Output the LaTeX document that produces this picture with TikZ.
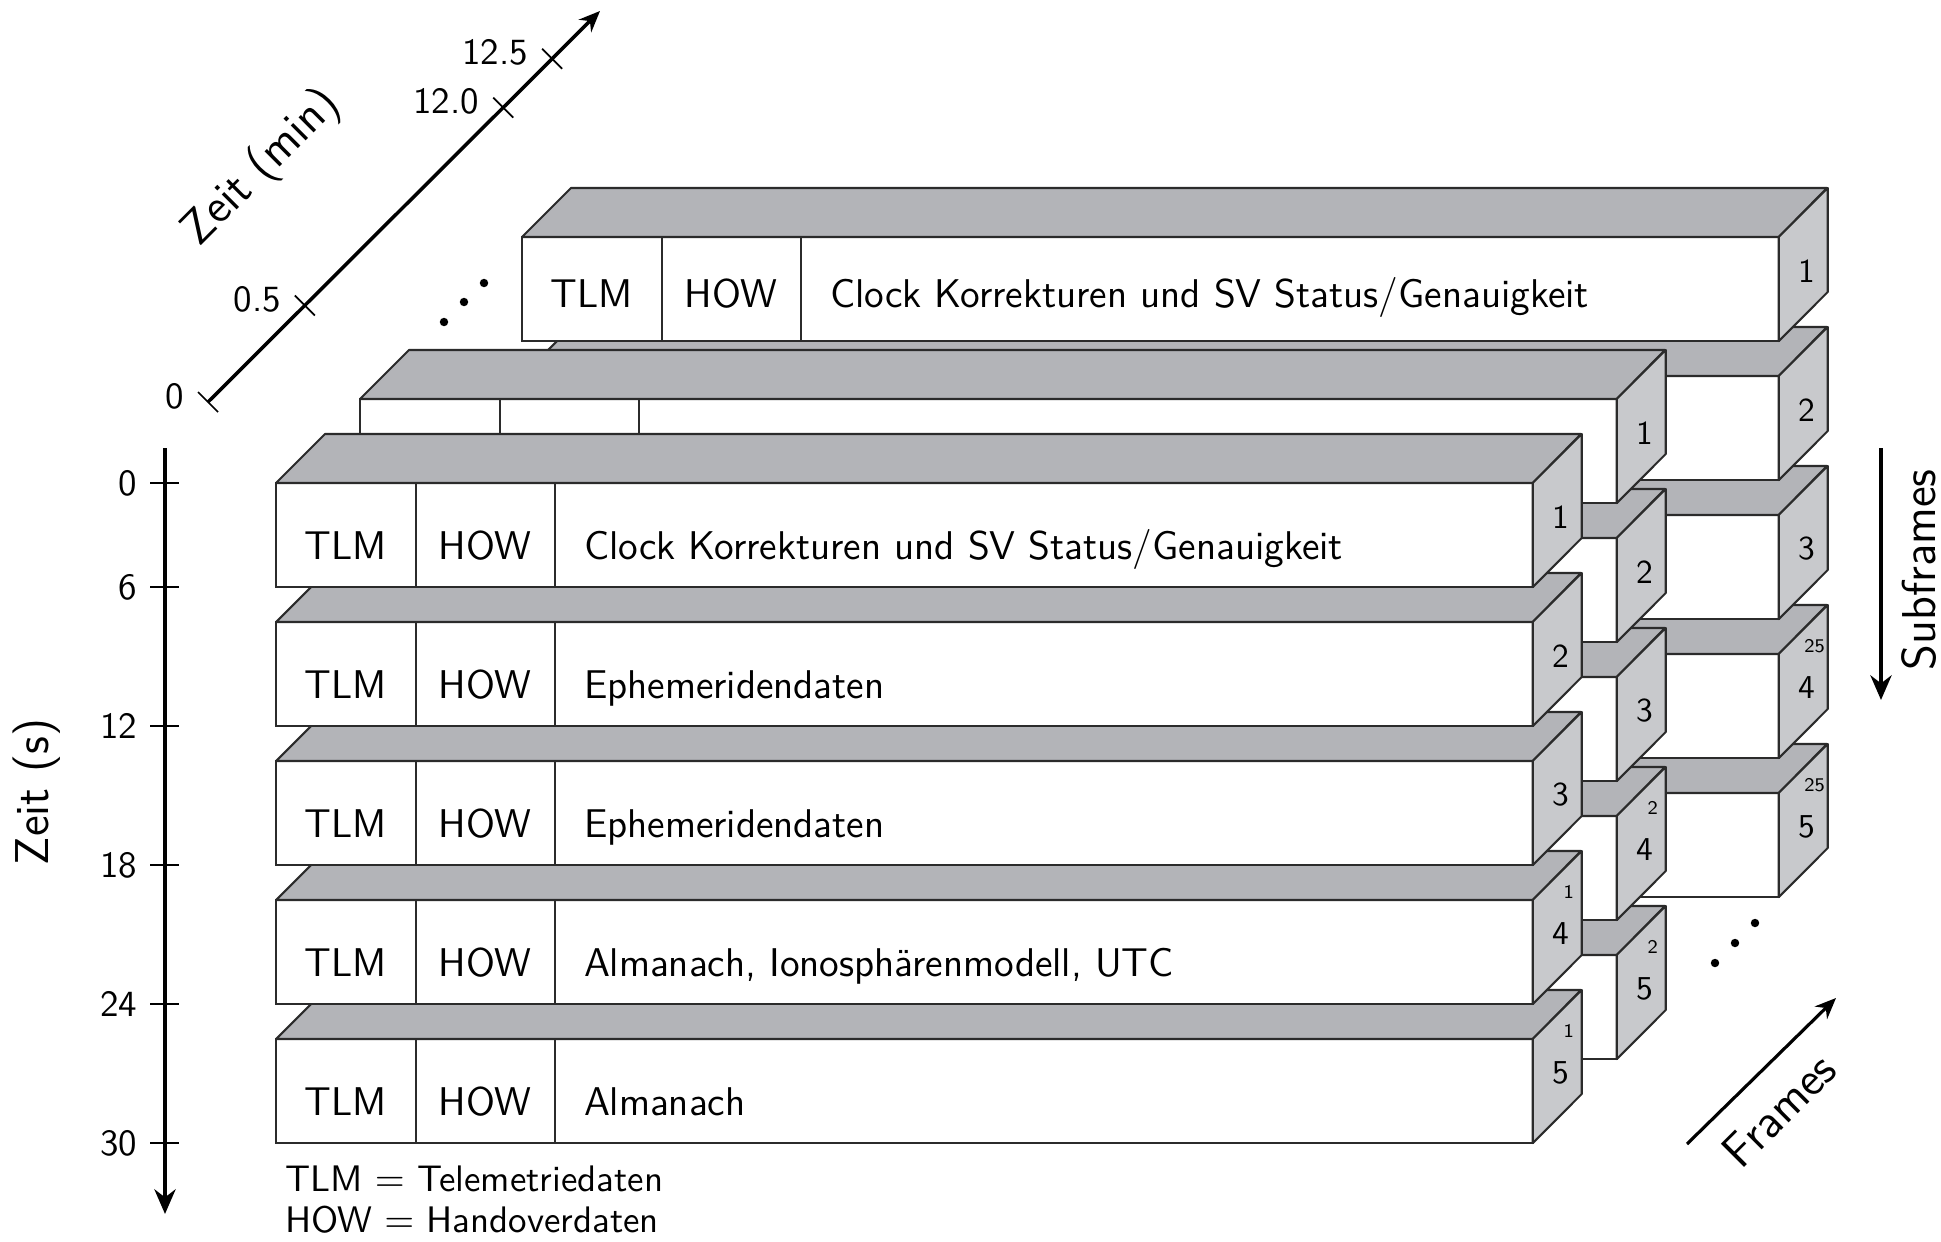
\documentclass[tikz,border=0pt]{standalone}
\usepackage{amsmath}
\usepackage{tikz}
\usetikzlibrary{arrows.meta, positioning, calc}

\definecolor{topgray}{HTML}{B3B4B8}
\definecolor{sidegray}{HTML}{C8C9CC}
\definecolor{edgegray}{HTML}{2B2B2B}
\newcommand{\dep}{49}
\newcommand{\wid}{1256}
\newcommand{\hgt}{104}
% one subframe box: name, left, top
\newcommand{\subfr}[3]{%
  \node[front] (#1) at (#2,#3) {};
  \filldraw[topface] (#1.north west) -- ++(\dep,-\dep) -- ++(\wid,0) -- (#1.north east) -- cycle;
  \filldraw[sideface] (#1.north east) -- ++(\dep,-\dep) -- ++(0,\hgt) -- (#1.south east) -- cycle;
  \draw[edge] ($(#1.north west)+(140,0)$) -- ($(#1.south west)+(140,0)$);
  \draw[edge] ($(#1.north west)+(279,0)$) -- ($(#1.south west)+(279,0)$);
}

\begin{document}
\begin{tikzpicture}[x=0.01cm, y=-0.01cm, font=\sffamily,
    every node/.style={inner sep=0pt, outer sep=0pt}]
  \tikzset{front/.style={draw=edgegray, line width=0.6pt, fill=white, minimum width=12.56cm, minimum height=1.04cm, anchor=north west},
    topface/.style={draw=edgegray, line width=0.6pt, fill=topgray, line join=round},
    sideface/.style={draw=edgegray, line width=0.6pt, fill=sidegray, line join=round},
    edge/.style={draw=edgegray, line width=0.6pt},
    cell/.style={font=\sffamily\fontsize{11.4}{13}\selectfont, anchor=base},
    sidenum/.style={font=\sffamily\fontsize{9.5}{11}\selectfont},
    sidesup/.style={font=\sffamily\fontsize{5.5}{6}\selectfont},
    ticklabel/.style={font=\sffamily\fontsize{10.5}{12}\selectfont},
    axistitle/.style={font=\sffamily\fontsize{13.5}{15}\selectfont},
    legend/.style={font=\sffamily\fontsize{10.5}{12}\selectfont, anchor=base west}}
  \useasboundingbox (0,0) rectangle (1941,1242);

  % frames back to front, subframes bottom to top
  \foreach \fr/\lx/\ty in {25/522/237, 2/360/399, 1/276/483} {
    \foreach \s in {5,4,3,2,1} {
      \pgfmathsetmacro{\tp}{\ty+(\s-1)*139}
      \subfr{f\fr-\s}{\lx}{\tp}
      \node[sidenum] (n\fr-\s) at ($(f\fr-\s.north east)+(28,34)$) {\s};
      \ifnum\s>3
        \node[sidesup] (u\fr-\s) at ($(f\fr-\s.north east)+(36,-8)$) {\fr};
      \fi
    }
  }

  % texts
  \foreach \s/\txt in {1/{Clock Korrekturen und SV Status/Genauigkeit}, 2/Ephemeridendaten, 3/Ephemeridendaten, 4/{Almanach, Ionosphärenmodell, UTC}, 5/Almanach} {
    \node[cell] (tlm1-\s) at ($(f1-\s.north west)+(70,76)$) {TLM};
    \node[cell] (how1-\s) at ($(f1-\s.north west)+(209,76)$) {HOW};
    \node[cell, anchor=base west] (dat1-\s) at ($(f1-\s.north west)+(308,76)$) {\txt};
  }
  \node[cell] (tlm25-1) at ($(f25-1.north west)+(70,70)$) {TLM};
  \node[cell] (how25-1) at ($(f25-1.north west)+(209,70)$) {HOW};
  \node[cell, anchor=base west] (dat25-1) at ($(f25-1.north west)+(308,70)$) {Clock Korrekturen und SV Status/Genauigkeit};

  % dots
  \foreach \x/\y in {444/322, 464/302, 484/283, 1715/963, 1735/943, 1755/923}
    \fill (\x,\y) circle (1.2pt);

  % Zeit (s)
  \coordinate (zs-start) at (165,448);
  \coordinate (zs-end) at (165,1214);
  \draw[line width=1.4pt, -{Stealth[length=7pt, width=6pt]}] (zs-start) -- (zs-end);
  \foreach \y/\t in {483/0, 587/6, 726/12, 865/18, 1004/24, 1143/30} {
    \draw[line width=0.5pt] (150,\y) -- (179,\y);
    \node[ticklabel, anchor=east] at (137,\y) {\t};
  }
  \node[axistitle, rotate=90] (zs-title) at (37,792) {Zeit (s)};

  % Zeit (min)
  \coordinate (zm-start) at (208,402);
  \coordinate (zm-end) at (600,11);
  \draw[line width=1pt, -{Stealth[length=6pt, width=5pt]}] (zm-start) -- (zm-end);
  \foreach \p/\t in {0/0, 0.247/0.5, 0.753/12.0, 0.878/12.5} {
    \draw[line width=0.5pt] ($(zm-start)!\p!(zm-end)+(-10,-10)$) -- ($(zm-start)!\p!(zm-end)+(10,10)$);
    \node[ticklabel, anchor=east] at ($(zm-start)!\p!(zm-end)+(-24,-6)$) {\t};
  }
  \node[axistitle, rotate=45] (zm-title) at (262,168) {Zeit (min)};

  % Subframes / Frames
  \coordinate (sf-start) at (1881,448);
  \coordinate (sf-end) at (1881,700);
  \draw[line width=1.3pt, -{Stealth[length=7pt, width=6pt]}] (sf-start) -- (sf-end);
  \node[axistitle, rotate=90] (sf-title) at (1919,570) {Subframes};
  \coordinate (fr-start) at (1687,1144);
  \coordinate (fr-end) at (1836,998);
  \draw[line width=0.9pt, -{Stealth[length=6pt, width=5pt]}] (fr-start) -- (fr-end);
  \node[axistitle, rotate=45] (fr-title) at (1779,1110) {Frames};

  % legend
  \node[legend] (leg-tlm) at (285,1191) {TLM $=$ Telemetriedaten};
  \node[legend] (leg-how) at (285,1232) {HOW $=$ Handoverdaten};
\end{tikzpicture}
\end{document}
